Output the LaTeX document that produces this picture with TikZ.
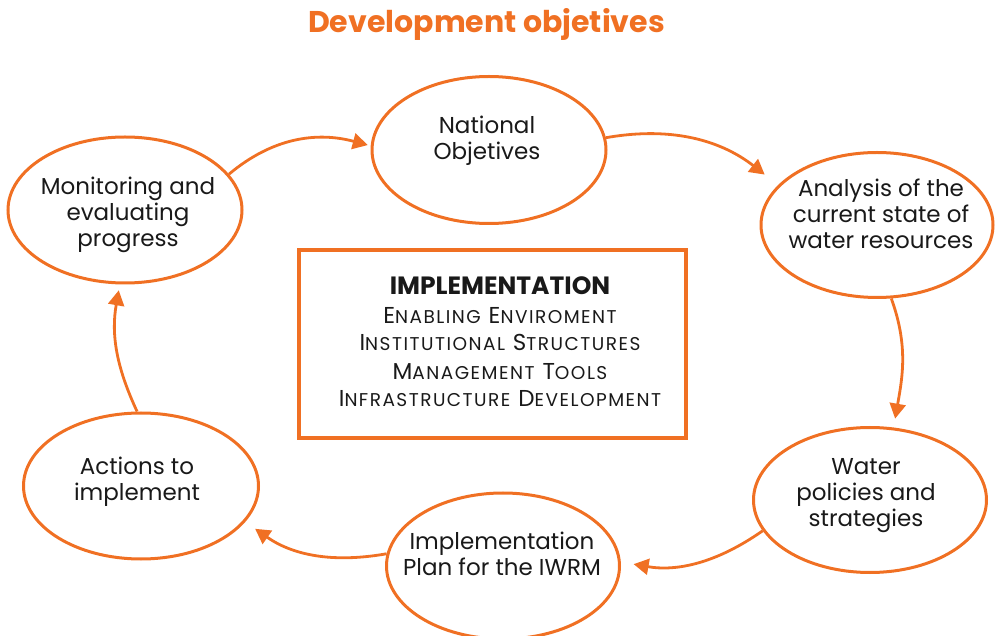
\documentclass[tikz,border=0pt]{standalone}
\usepackage{fontspec}
\setmainfont{Poppins}
\newfontfamily\scfont[LetterSpace=8]{Poppins}
\usetikzlibrary{arrows.meta,shapes.geometric}
\definecolor{org}{RGB}{240,112,35}
\definecolor{ink}{RGB}{25,25,25}
\newcommand\smc[1]{{\fontsize{18.5}{28}\selectfont #1}}
\newcommand\scline[1]{{\scfont\fontsize{23}{28}\selectfont\strut #1}}
\begin{document}
\begin{tikzpicture}[x=1pt,y=-1pt,
  ell/.style={draw=org,line width=3pt,ellipse,inner sep=0pt,minimum width=233pt,minimum height=145pt},
  txt/.style={align=center,text=ink,inner sep=0pt,font=\fontsize{23}{26}\selectfont},
  conn/.style={draw=org,line width=2.8pt,-{Triangle[length=15pt,width=16pt]}},
]
\useasboundingbox (0,0) rectangle (997,636);
% title
\node[anchor=base,text=org,inner sep=0pt,font=\fontsize{30}{32}\selectfont\bfseries] (title) at (486.5,33) {Development objetives};
% ellipses
\node[ell,minimum width=234pt,minimum height=146pt] (mon) at (125,210) {};
\node[ell,minimum width=234pt,minimum height=147pt] (nat) at (489,150) {};
\node[ell,minimum width=232pt] (ana) at (877,225) {};
\node[ell] (wat) at (870,500) {};
\node[ell,minimum height=146pt] (imp) at (503,566) {};
\node[ell,minimum width=235pt,minimum height=146pt] (act) at (141,486) {};
% texts
\node[txt] (monT) at (128,215.8) {\strut Monitoring and\\\strut evaluating\\\strut progress};
\node[txt] (natT) at (487,141.8) {\strut National\\\strut Objetives};
\node[txt] (anaT) at (881,217.3) {\strut Analysis of the\\\strut current state of\\\strut water resources};
\node[txt] (watT) at (866,495) {\strut Water\\\strut policies and\\\strut strategies};
\node[txt] (impT) at (502,557) {\strut Implementation\\\strut Plan for the IWRM};
\node[txt] (actT) at (137,482) {\strut Actions to\\\strut implement};
% centre box
\node[draw=org,line width=3.2pt,minimum width=387pt,minimum height=188pt,inner sep=0pt] (box) at (492.5,344) {};
\node[align=center,text=ink,inner sep=0pt,font=\fontsize{23}{28}\selectfont] (boxT) at (500,345.4)
 {{\fontsize{25}{28}\selectfont\bfseries\strut IMPLEMENTATION}\\
  \scline{E\smc{NABLING} E\smc{NVIROMENT}}\\
  \scline{I\smc{NSTITUTIONAL} S\smc{TRUCTURES}}\\
  \scline{M\smc{ANAGEMENT} T\smc{OOLS}}\\
  \scline{I\smc{NFRASTRUCTURE} D\smc{EVELOPMENT}}};
% connectors
\draw[conn,shorten >=3pt] (mon.19) to[out=40,in=165] (nat.178);
\draw[conn,shorten >=17pt] (nat.6) to[out=10,in=142] (ana.158);
\draw[conn,shorten >=9pt] (ana.-79) to[out=-70,in=80] (wat.72);
\draw[conn,shorten >=13pt] (wat.196) to[out=215,in=-10] (imp.2);
\draw[conn,shorten >=12pt] (imp.174) to[out=190,in=-35] (act.-19);
\draw[conn,shorten >=6pt] (act.93) to[out=115,in=-100] (mon.-94);
\end{tikzpicture}
\end{document}
